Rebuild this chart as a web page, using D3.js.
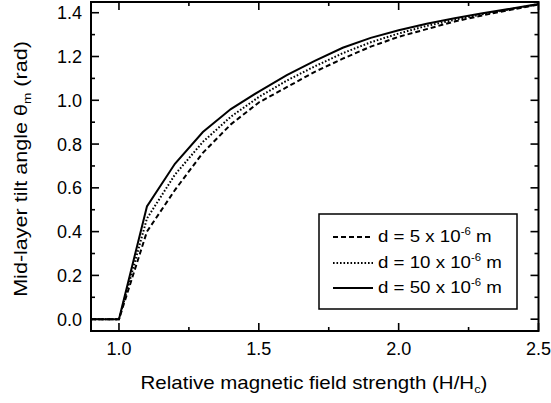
<!DOCTYPE html>
<html><head><meta charset="utf-8">
<script src="https://cdn.jsdelivr.net/npm/d3@7"></script>
<style>body{margin:0;background:#fff}svg{display:block}text{font-family:Arial,"Liberation Sans",sans-serif;fill:#000}</style>
</head><body><svg id="c" width="551" height="403"></svg>
<script>
const hRatio = [0.9,1.0,1.1,1.2,1.3,1.4,1.5,1.6,1.7,1.8,1.9,2.0,2.1,2.2,2.3,2.4,2.5];
const theta5  = [0,0,0.40,0.59,0.76,0.89,0.99,1.06,1.13,1.19,1.245,1.29,1.325,1.36,1.388,1.413,1.437];
const theta10 = [0,0,0.46,0.66,0.81,0.925,1.015,1.09,1.155,1.215,1.265,1.305,1.34,1.368,1.393,1.416,1.439];
const theta50 = [0,0,0.515,0.71,0.855,0.96,1.04,1.115,1.18,1.24,1.285,1.32,1.35,1.375,1.398,1.418,1.44];
const seriesLabels = ["5","10","50"];
const xTicks = [1.0,1.5,2.0,2.5];
const yTicks = [0.0,0.2,0.4,0.6,0.8,1.0,1.2,1.4];

const svg = d3.select("#c");
const L=91,R=538.5,T=2,B=331;
const x = d3.scaleLinear().domain([0.9,2.5]).range([L,R]);
const y = d3.scaleLinear().domain([-0.054,1.449]).range([B,T]);

// ticks (inward, all sides)
const g = svg.append("g");
const xMinor = d3.range(1.25,2.5,0.5);
const yMinor = d3.range(0.1,1.45,0.2);
function tk(x1,y1,x2,y2){g.append("line").attr("x1",x1).attr("y1",y1).attr("x2",x2).attr("y2",y2).attr("stroke","#000").attr("stroke-width",1.6);}
xTicks.forEach(v=>{tk(x(v),B,x(v),B-8);tk(x(v),T,x(v),T+8);});
xMinor.forEach(v=>{tk(x(v),B,x(v),B-4);tk(x(v),T,x(v),T+4);});
yTicks.forEach(v=>{tk(L,y(v),L+8,y(v));tk(R,y(v),R-8,y(v));});
yMinor.forEach(v=>{tk(L,y(v),L+4,y(v));tk(R,y(v),R-4,y(v));});

// tick labels
xTicks.forEach(v=>svg.append("text").attr("x",x(v)).attr("y",355).attr("text-anchor","middle").attr("font-size",18).text(v.toFixed(1)));
yTicks.forEach(v=>svg.append("text").attr("x",82).attr("y",y(v)+6.5).attr("text-anchor","end").attr("font-size",18).text(v.toFixed(1)));

// frame
svg.append("rect").attr("x",L).attr("y",T).attr("width",R-L).attr("height",B-T).attr("fill","none").attr("stroke","#000").attr("stroke-width",2);

// curves
const dashes = ["5,3","1.6,1.9",null];
const data = [theta5,theta10,theta50];
const line = d3.line().x((d,i)=>x(hRatio[i])).y(d=>y(d));
data.forEach((s,k)=>{
  const p = svg.append("path").datum(s).attr("d",line).attr("fill","none").attr("stroke","#000").attr("stroke-width",2);
  if(dashes[k]) p.attr("stroke-dasharray",dashes[k]);
});

// legend
svg.append("rect").attr("x",319).attr("y",214).attr("width",198).attr("height",95).attr("fill","#fff").attr("stroke","#000").attr("stroke-width",1.5);
const rowY=[237,263,288];
const legTexts=[];
seriesLabels.forEach((lab,k)=>{
  const l = svg.append("line").attr("x1",333).attr("x2",373).attr("y1",rowY[k]).attr("y2",rowY[k]).attr("stroke","#000").attr("stroke-width",2);
  if(dashes[k]) l.attr("stroke-dasharray",dashes[k]);
  const t = svg.append("text").attr("x",378).attr("y",rowY[k]+5.5).attr("font-size",16.5);
  t.append("tspan").text("d = "+lab+" x 10");
  t.append("tspan").attr("dy",-7).attr("font-size",10).text("-6");
  t.append("tspan").attr("dy",7).text(" m");
  legTexts.push(t);
});
const legScale = 124/legTexts[2].node().getBBox().width;
legTexts.forEach(t=>t.attr("transform",`translate(378,0) scale(${legScale},1) translate(-378,0)`));

// axis titles
const xt = svg.append("text").attr("x",314).attr("y",389).attr("text-anchor","middle").attr("font-size",17.5);
xt.append("tspan").text("Relative magnetic field strength (H/H");
xt.append("tspan").attr("dy",4).attr("font-size",11).text("c");
xt.append("tspan").attr("dy",-4).text(")");
const xs = 347/xt.node().getBBox().width;
xt.attr("transform",`translate(314,0) scale(${xs},1) translate(-314,0)`);

const yt = svg.append("text").attr("x",0).attr("y",0).attr("text-anchor","middle").attr("font-size",17.5);
yt.append("tspan").text("Mid-layer tilt angle θ");
yt.append("tspan").attr("dy",4).attr("font-size",11).text("m");
yt.append("tspan").attr("dy",-4).text(" (rad)");
const ys = 256/yt.node().getBBox().width;
yt.attr("transform",`translate(27,169) rotate(-90) scale(${ys},1)`);
</script></body></html>
